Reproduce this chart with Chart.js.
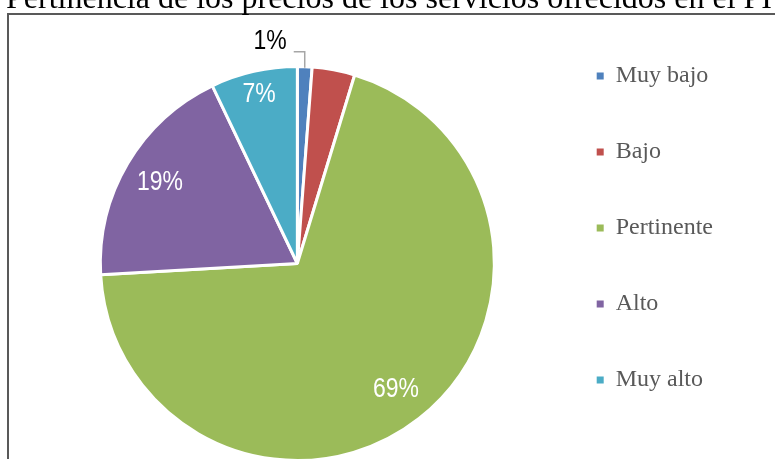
<!DOCTYPE html>
<html lang="es">
<head>
<meta charset="utf-8">
<title>Pertinencia de los precios</title>
<script src="https://cdn.jsdelivr.net/npm/chart.js@4.4.1/dist/chart.umd.min.js"></script>
<style>
  html, body { margin: 0; padding: 0; background: #fff; overflow: hidden; }
  #caja { position: relative; width: 775px; height: 515px; }
</style>
</head>
<body>
<div id="caja"><canvas id="grafico" width="775" height="515"></canvas></div>
<script>
// Datos (porcentajes)
const categorias = ['Muy bajo', 'Bajo', 'Pertinente', 'Alto', 'Muy alto'];
const valores = [1.2, 3.5, 69.4, 18.8, 7.1];
const colores = ['#4F81BD', '#C0504D', '#9BBB59', '#8064A2', '#4BACC6'];
// la etiqueta de "Bajo" no aparece en el original
const mostrarEtiqueta = [true, false, true, true, true];
const titulo = 'Pertinencia de los precios de los servicios ofrecidos en el PI';

// Marco gris y título (cortado arriba, como en la imagen)
const marcoYTitulo = {
    id: 'marcoYTitulo',
    beforeDraw(chart) {
        const ctx = chart.ctx;
        ctx.save();
        ctx.strokeStyle = '#595959';
        ctx.lineWidth = 2;
        ctx.strokeRect(8, 14, 2000, 2000);
        ctx.fillStyle = '#000';
        ctx.font = '32px "Liberation Serif"';
        ctx.textBaseline = 'alphabetic';
        ctx.textAlign = 'left';
        ctx.fillText(titulo, 6, 8);
        ctx.restore();
    }
};

// Etiquetas de porcentaje sobre cada porción
const etiquetas = {
    id: 'etiquetas',
    afterDatasetsDraw(chart) {
        const ctx = chart.ctx;
        const meta = chart.getDatasetMeta(0);
        meta.data.forEach((arc, i) => {
            if (!mostrarEtiqueta[i]) return;
            const p = arc.getProps(['x', 'y', 'startAngle', 'endAngle', 'outerRadius'], true);
            const medio = (p.startAngle + p.endAngle) / 2;
            const ang = p.endAngle - p.startAngle;
            const texto = Math.round(valores[i]) + '%';
            ctx.save();
            ctx.font = '28px "Liberation Sans"';
            ctx.textBaseline = 'middle';
            if (ang < 0.15) {
                // porción muy chica: etiqueta afuera con línea guía
                const bx = p.x + Math.cos(medio) * (p.outerRadius - 1);
                const by = p.y + Math.sin(medio) * (p.outerRadius - 1);
                const codoY = by - 16;
                const finX = bx - 11;
                ctx.strokeStyle = '#A6A6A6';
                ctx.lineWidth = 1.5;
                ctx.beginPath();
                ctx.moveTo(bx, by);
                ctx.lineTo(bx, codoY);
                ctx.lineTo(finX, codoY);
                ctx.stroke();
                ctx.fillStyle = '#000';
                ctx.translate(finX - 7, codoY - 10);
                ctx.scale(0.82, 1);
                ctx.textAlign = 'right';
                ctx.fillText(texto, 0, 0);
            } else {
                const f = ang < 0.5 ? 0.88 : 0.81;
                const tx = p.x + Math.cos(medio) * p.outerRadius * f;
                const ty = p.y + Math.sin(medio) * p.outerRadius * f;
                ctx.fillStyle = '#fff';
                ctx.translate(tx, ty);
                ctx.scale(0.82, 1);
                ctx.textAlign = 'center';
                ctx.fillText(texto, 0, 0);
            }
            ctx.restore();
        });
    }
};

const ctx = document.getElementById('grafico');

new Chart(ctx, {
    type: 'pie',
    data: {
        labels: categorias,
        datasets: [{
            data: valores,
            backgroundColor: colores,
            borderColor: '#ffffff',
            borderWidth: 3,
            radius: 197
        }]
    },
    options: {
        responsive: false,
        animation: false,
        devicePixelRatio: 1,
        layout: {
            padding: { top: 12, left: 50, right: 52, bottom: 0 }
        },
        plugins: {
            tooltip: { enabled: false },
            legend: {
                position: 'right',
                align: 'start',
                labels: {
                    boxWidth: 7,
                    boxHeight: 7,
                    padding: 52,
                    color: '#595959',
                    font: { family: 'Liberation Serif', size: 24 },
                    generateLabels(chart) {
                        const base = Chart.overrides.pie.plugins.legend.labels.generateLabels(chart);
                        return base.map(l => Object.assign(l, { lineWidth: 0, strokeStyle: 'rgba(0,0,0,0)' }));
                    }
                }
            }
        }
    },
    plugins: [marcoYTitulo, etiquetas]
});
</script>
</body>
</html>
